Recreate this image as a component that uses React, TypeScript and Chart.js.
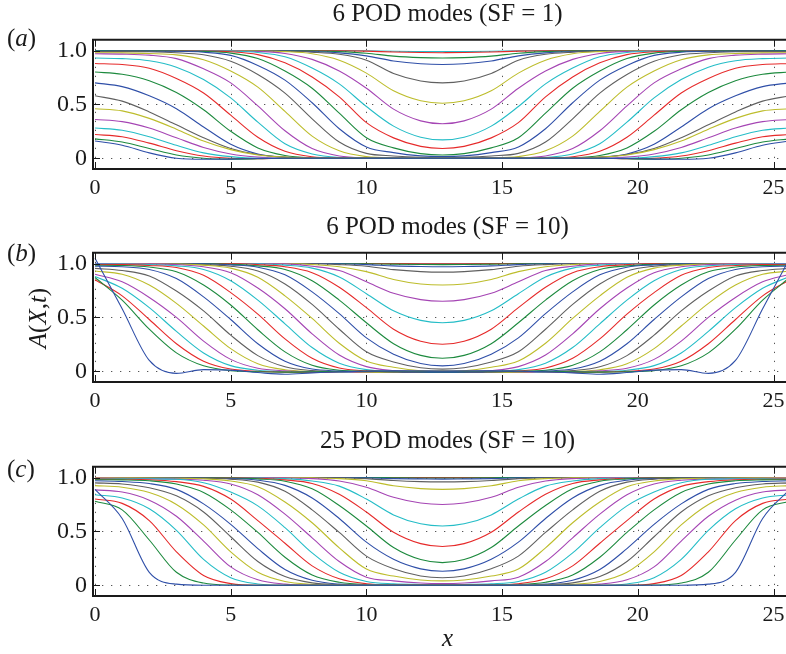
import React, { useEffect, useRef } from "react";
import { Chart, registerables } from "chart.js";

Chart.register(...registerables);

// x positions where the curves were read (symmetric about the domain centre 12.8)
const X_VALUES = [0, 1, 2, 3, 4, 5, 6, 7, 8, 9, 10, 11, 12, 12.8, 13.6, 14.6, 15.6, 16.6, 17.6, 18.6, 19.6, 20.6, 21.6, 22.6, 23.6, 24.6, 25.6];
const X_TICKS = [0, 5, 10, 15, 20, 25];
const Y_TICKS = [0, 0.5, 1];
const SERIES_COLORS = ["#2f4fa8", "#1d8a3e", "#e62a2a", "#25bdc7", "#a545b4", "#bdbd2c", "#606060"];

const TITLE_A = "6 POD modes (SF = 1)";
const TITLE_B = "6 POD modes (SF = 10)";
const TITLE_C = "25 POD modes (SF = 10)";
const X_LABEL = "x";

// Panel (a): 6 POD modes, SF = 1
const CURVES_A = [
  [.16,.12,.05,0,-.01,-.008,-.003,0,0,0,0,0,0, 0, 0,0,0,0,0,0,-.003,-.008,-.01,0,.05,.12,.16],
  [.18,.15,.09,.03,0,-.008,-.005,0,0,0,0,0,0, 0, 0,0,0,0,0,0,-.005,-.008,0,.03,.09,.15,.18],
  [.22,.2,.14,.07,.02,0,-.004,0,0,0,0,0,0, 0, 0,0,0,0,0,0,-.004,0,.02,.07,.14,.2,.22],
  [.28,.26,.2,.12,.05,.015,0,0,0,0,0,0,0, 0, 0,0,0,0,0,0,0,.015,.05,.12,.2,.26,.28],
  [.36,.34,.28,.19,.1,.04,.01,0,0,0,0,0,0, 0, 0,0,0,0,0,0,.01,.04,.1,.19,.28,.34,.36],
  [.46,.44,.37,.27,.16,.08,.03,.01,0,0,0,0,0, 0, 0,0,0,0,0,.01,.03,.08,.16,.27,.37,.44,.46],
  [.58,.53,.43,.31,.19,.09,.035,.01,.002,0,0,0,0, 0, 0,0,0,0,.002,.01,.035,.09,.19,.31,.43,.53,.58],
  [.7,.665,.58,.46,.29,.13,.04,.008,0,0,0,0,0, 0, 0,0,0,0,0,.008,.04,.13,.29,.46,.58,.665,.7],
  [.8,.78,.72,.61,.45,.25,.096,.026,.004,0,0,0,0, 0, 0,0,0,0,.004,.026,.096,.25,.45,.61,.72,.78,.8],
  [.88,.87,.835,.74,.605,.4,.195,.065,.014,.002,0,0,0, 0, 0,0,0,.002,.014,.065,.195,.4,.605,.74,.835,.87,.88],
  [.93,.925,.905,.845,.73,.56,.335,.134,.04,.007,.001,0,0, 0, 0,0,.001,.007,.04,.134,.335,.56,.73,.845,.905,.925,.93],
  [.97,.967,.957,.925,.83,.7,.486,.255,.09,.021,.003,0,0, 0, 0,0,.003,.021,.09,.255,.486,.7,.83,.925,.957,.967,.97],
  [.98,.978,.972,.96,.915,.81,.66,.435,.205,.069,.015,.002,0, 0, 0,.002,.015,.069,.205,.435,.66,.81,.915,.96,.972,.978,.98],
  [.99,.99,.988,.98,.96,.9,.777,.604,.366,.15,.045,.021,.008, .005, .008,.021,.045,.15,.366,.604,.777,.9,.96,.98,.988,.99,.99],
  [.995,.995,.994,.993,.984,.955,.862,.725,.515,.274,.105,.052,.022, .015, .022,.052,.105,.274,.515,.725,.862,.955,.984,.993,.994,.995,.995],
  [1,.998,.997,.996,.992,.976,.926,.81,.65,.418,.19,.096,.043, .03, .043,.096,.19,.418,.65,.81,.926,.976,.992,.996,.997,.998,1],
  [1,1,.998,.997,.995,.988,.962,.886,.755,.57,.33,.189,.11, .09, .11,.189,.33,.57,.755,.886,.962,.988,.995,.997,.998,1,1],
  [1,1,1,.998,.997,.994,.982,.942,.837,.69,.48,.298,.195, .17, .195,.298,.48,.69,.837,.942,.982,.994,.997,.998,1,1,1],
  [1,1,1,1,.998,.996,.991,.973,.918,.81,.65,.456,.347, .32, .347,.456,.65,.81,.918,.973,.991,.996,.998,1,1,1,1],
  [1,1,1,1,1,.998,.996,.99,.97,.91,.79,.626,.533, .51, .533,.626,.79,.91,.97,.99,.996,.998,1,1,1,1,1],
  [1,1,1,1,1,1,.998,.995,.985,.965,.91,.787,.717, .7, .717,.787,.91,.965,.985,.995,.998,1,1,1,1,1,1],
  [1,1,1,1,1,1,1,.997,.99,.978,.95,.903,.877, .87, .877,.903,.95,.978,.99,.997,1,1,1,1,1,1,1],
  [1,1,1,1,1,1,1,1,.997,.99,.975,.948,.934, .93, .934,.948,.975,.99,.997,1,1,1,1,1,1,1,1],
  [1,1,1,1,1,1,1,1,1,.998,.994,.986,.981, .98, .981,.986,.994,.998,1,1,1,1,1,1,1,1,1],
  [1,1,1,1,1,1,1,1,1,1,.998,.993,.991, .99, .991,.993,.998,1,1,1,1,1,1,1,1,1,1],
];

// Panel (b): 6 POD modes, SF = 10
const CURVES_B = [
  [1.05,.58,.1,-.02,.015,.01,-.012,-.028,-.015,-.005,0,.003,.002, 0, .002,.003,0,-.005,-.015,-.028,-.012,.01,.015,-.02,.1,.58,1.05],
  [.87,.66,.39,.17,.05,.005,-.005,-.008,-.005,0,0,0,0, 0, 0,0,0,0,-.005,-.008,-.005,.005,.05,.17,.39,.66,.87],
  [.85,.7,.48,.255,.093,.02,0,-.008,-.01,-.005,0,0,0, 0, 0,0,0,-.005,-.01,-.008,0,.02,.093,.255,.48,.7,.85],
  [.88,.77,.59,.37,.17,.052,.009,-.005,-.01,-.008,0,0,0, 0, 0,0,0,-.008,-.01,-.005,.009,.052,.17,.37,.59,.77,.88],
  [.9,.83,.685,.5,.28,.11,.028,.004,-.005,-.01,-.005,0,0, 0, 0,0,-.005,-.01,-.005,.004,.028,.11,.28,.5,.685,.83,.9],
  [.93,.9,.8,.63,.42,.21,.07,.014,-.002,-.01,-.01,-.005,0, 0, 0,-.005,-.01,-.01,-.002,.014,.07,.21,.42,.63,.8,.9,.93],
  [.955,.935,.885,.745,.56,.335,.145,.041,.006,-.005,-.012,-.01,-.005, 0, -.005,-.01,-.012,-.005,.006,.041,.145,.335,.56,.745,.885,.935,.955],
  [.975,.97,.945,.86,.69,.48,.255,.093,.02,.002,-.008,-.012,-.01, -.008, -.01,-.012,-.008,.002,.02,.093,.255,.48,.69,.86,.945,.97,.975],
  [.985,.982,.967,.923,.8,.615,.385,.18,.055,.009,-.002,-.01,-.012, -.012, -.012,-.01,-.002,.009,.055,.18,.385,.615,.8,.923,.967,.982,.985],
  [.99,.99,.982,.963,.89,.73,.53,.3,.12,.03,.004,-.006,-.01, -.01, -.01,-.006,.004,.03,.12,.3,.53,.73,.89,.963,.982,.99,.99],
  [.995,.995,.99,.978,.945,.84,.66,.44,.22,.075,.015,-.002,-.008, -.01, -.008,-.002,.015,.075,.22,.44,.66,.84,.945,.978,.99,.995,.995],
  [1,.998,.997,.99,.97,.915,.773,.58,.347,.15,.043,.006,-.004, -.006, -.004,.006,.043,.15,.347,.58,.773,.915,.97,.99,.997,.998,1],
  [1,1,.998,.995,.985,.957,.872,.7,.49,.26,.095,.037,.004, -.004, .004,.037,.095,.26,.49,.7,.872,.957,.985,.995,.998,1,1],
  [1,1,1,.998,.99,.975,.93,.81,.62,.39,.18,.086,.033, .02, .033,.086,.18,.39,.62,.81,.93,.975,.99,.998,1,1,1],
  [1,1,1,1,.998,.987,.966,.895,.737,.535,.31,.158,.071, .05, .071,.158,.31,.535,.737,.895,.966,.987,.998,1,1,1,1],
  [1,1,1,1,1,.993,.978,.945,.84,.66,.45,.256,.147, .12, .147,.256,.45,.66,.84,.945,.978,.993,1,1,1,1,1],
  [1,1,1,1,1,1,.99,.97,.915,.78,.59,.39,.278, .25, .278,.39,.59,.78,.915,.97,.99,1,1,1,1,1,1],
  [1,1,1,1,1,1,.998,.985,.957,.875,.72,.561,.472, .45, .472,.561,.72,.875,.957,.985,.998,1,1,1,1,1,1],
  [1,1,1,1,1,1,1,.997,.975,.935,.83,.724,.665, .65, .665,.724,.83,.935,.975,.997,1,1,1,1,1,1,1],
  [1,1,1,1,1,1,1,1,.99,.97,.925,.852,.81, .8, .81,.852,.925,.97,.99,1,1,1,1,1,1,1,1],
  [1,1,1,1,1,1,1,1,.998,.99,.975,.943,.925, .92, .925,.943,.975,.99,.998,1,1,1,1,1,1,1,1],
  [1,1,1,1,1,1,1,1,1,.998,.99,.978,.972, .97, .972,.978,.99,.998,1,1,1,1,1,1,1,1,1],
  [1,1,1,1,1,1,1,1,1,1,.998,.994,.991, .99, .991,.994,.998,1,1,1,1,1,1,1,1,1,1],
  [1,1,1,1,1,1,1,1,1,1,1,.999,.998, .997, .998,.999,1,1,1,1,1,1,1,1,1,1,1],
  [1,1,1,1,1,1,1,1,1,1,1,1,1, 1, 1,1,1,1,1,1,1,1,1,1,1,1,1],
];

// Panel (c): 25 POD modes, SF = 10
const CURVES_C = [
  [.89,.62,.12,.01,0,0,0,0,0,0,0,0,0, 0, 0,0,0,0,0,0,0,0,0,.01,.12,.62,.89],
  [.78,.7,.42,.12,.02,.002,0,0,0,0,0,0,0, 0, 0,0,0,0,0,0,0,.002,.02,.12,.42,.7,.78],
  [.8,.76,.6,.31,.09,.015,0,0,0,0,0,0,0, 0, 0,0,0,0,0,0,0,.015,.09,.31,.6,.76,.8],
  [.84,.81,.71,.51,.24,.07,.012,0,0,0,0,0,0, 0, 0,0,0,0,0,0,.012,.07,.24,.51,.71,.81,.84],
  [.885,.865,.79,.64,.41,.17,.05,.01,0,0,0,0,0, 0, 0,0,0,0,0,.01,.05,.17,.41,.64,.79,.865,.885],
  [.925,.91,.86,.75,.56,.31,.12,.035,.008,0,0,0,0, 0, 0,0,0,0,.008,.035,.12,.31,.56,.75,.86,.91,.925],
  [.95,.94,.905,.83,.68,.45,.22,.08,.022,.005,0,0,0, 0, 0,0,0,.005,.022,.08,.22,.45,.68,.83,.905,.94,.95],
  [.97,.963,.944,.89,.755,.565,.34,.146,.046,.01,.002,0,0, 0, 0,0,.002,.01,.046,.146,.34,.565,.755,.89,.944,.963,.97],
  [.98,.978,.97,.94,.862,.7,.49,.26,.095,.027,.005,.001,0, 0, 0,.001,.005,.027,.095,.26,.49,.7,.862,.94,.97,.978,.98],
  [.985,.984,.98,.962,.918,.8,.6,.39,.18,.06,.014,.003,.001, .001, .001,.003,.014,.06,.18,.39,.6,.8,.918,.962,.98,.984,.985],
  [.99,.99,.988,.984,.952,.865,.737,.535,.3,.12,.035,.013,.007, .006, .007,.013,.035,.12,.3,.535,.737,.865,.952,.984,.988,.99,.99],
  [.995,.993,.99,.985,.975,.94,.84,.66,.44,.22,.075,.04,.02, .015, .02,.04,.075,.22,.44,.66,.84,.94,.975,.985,.99,.993,.995],
  [1,.998,.996,.993,.988,.968,.915,.773,.58,.347,.15,.085,.049, .04, .049,.085,.15,.347,.58,.773,.915,.968,.988,.993,.996,.998,1],
  [1,1,.998,.997,.994,.985,.957,.872,.7,.49,.27,.153,.086, .07, .086,.153,.27,.49,.7,.872,.957,.985,.994,.997,.998,1,1],
  [1,1,1,.998,.996,.99,.975,.927,.81,.62,.4,.241,.152, .13, .152,.241,.4,.62,.81,.927,.975,.99,.996,.998,1,1,1],
  [1,1,1,1,.998,.995,.987,.966,.895,.74,.55,.35,.238, .21, .238,.35,.55,.74,.895,.966,.987,.995,.998,1,1,1,1],
  [1,1,1,1,1,.998,.993,.978,.945,.845,.68,.492,.386, .36, .386,.492,.68,.845,.945,.978,.993,.998,1,1,1,1,1],
  [1,1,1,1,1,1,.997,.99,.968,.92,.8,.653,.57, .55, .57,.653,.8,.92,.968,.99,.997,1,1,1,1,1,1],
  [1,1,1,1,1,1,1,.997,.99,.967,.91,.816,.763, .75, .763,.816,.91,.967,.99,.997,1,1,1,1,1,1,1],
  [1,1,1,1,1,1,1,1,.997,.99,.97,.923,.897, .89, .897,.923,.97,.99,.997,1,1,1,1,1,1,1,1],
  [1,1,1,1,1,1,1,1,1,.998,.99,.972,.962, .96, .962,.972,.99,.998,1,1,1,1,1,1,1,1,1],
  [1,1,1,1,1,1,1,1,1,1,.997,.99,.987, .985, .987,.99,.997,1,1,1,1,1,1,1,1,1,1],
  [1,1,1,1,1,1,1,1,1,1,1,.998,.996, .995, .996,.998,1,1,1,1,1,1,1,1,1,1,1],
  [1,1,1,1,1,1,1,1,1,1,1,1,.999, .999, .999,1,1,1,1,1,1,1,1,1,1,1,1],
  [1,1,1,1,1,1,1,1,1,1,1,1,1, 1, 1,1,1,1,1,1,1,1,1,1,1,1,1],
];

const FONT = "'Liberation Serif', 'Times New Roman', serif";

const framePlugin = {
  id: "matlabFrame",
  beforeDatasetsDraw(chart: any) {
    const { ctx, chartArea: a, scales } = chart;
    const xs = scales.x;
    const ys = scales.y;
    ctx.save();
    ctx.strokeStyle = "#555";
    ctx.lineWidth = 1;
    ctx.setLineDash([1.3, 7.7]);
    for (const v of Y_TICKS) {
      const py = Math.round(ys.getPixelForValue(v)) + 0.5;
      ctx.beginPath();
      ctx.moveTo(a.left, py);
      ctx.lineTo(a.right, py);
      ctx.stroke();
    }
    for (const v of X_TICKS) {
      const px = Math.round(xs.getPixelForValue(v)) + 0.5;
      ctx.beginPath();
      ctx.moveTo(px, a.top);
      ctx.lineTo(px, a.bottom);
      ctx.stroke();
    }
    ctx.restore();
  },
  afterDatasetsDraw(chart: any) {
    const { ctx, chartArea: a, scales } = chart;
    const xs = scales.x;
    const ys = scales.y;
    ctx.save();
    ctx.setLineDash([]);
    ctx.strokeStyle = "#1a1a1a";
    ctx.lineWidth = 1;
    for (const v of X_TICKS) {
      const px = Math.round(xs.getPixelForValue(v)) + 0.5;
      ctx.beginPath();
      ctx.moveTo(px, a.top);
      ctx.lineTo(px, a.top + 7);
      ctx.moveTo(px, a.bottom);
      ctx.lineTo(px, a.bottom - 7);
      ctx.stroke();
    }
    for (const v of Y_TICKS) {
      const py = Math.round(ys.getPixelForValue(v)) + 0.5;
      ctx.beginPath();
      ctx.moveTo(a.left, py);
      ctx.lineTo(a.left + 7, py);
      ctx.moveTo(a.right, py);
      ctx.lineTo(a.right - 7, py);
      ctx.stroke();
    }
    ctx.lineWidth = 2;
    ctx.strokeRect(a.left, a.top, a.right - a.left, a.bottom - a.top);
    ctx.restore();
  },
};

function buildConfig(curves: number[][], title: string, xAxisHeight: number, xTitle?: string) {
  return {
    type: "line" as const,
    data: {
      datasets: curves.map((ys, i) => ({
        data: X_VALUES.map((x, j) => ({ x, y: ys[j] })),
        borderColor: SERIES_COLORS[i % SERIES_COLORS.length],
        borderWidth: 1.1,
        pointRadius: 0,
        fill: false,
        cubicInterpolationMode: "monotone" as const,
      })),
    },
    options: {
      animation: false as const,
      responsive: false,
      maintainAspectRatio: false,
      devicePixelRatio: 1,
      layout: { padding: { left: 0, right: 10, top: 0, bottom: 0 } },
      plugins: {
        legend: { display: false },
        tooltip: { enabled: false },
        title: {
          display: true,
          text: title,
          fullSize: false,
          color: "#1a1a1a",
          font: { family: FONT, size: 25, weight: "normal" as const, lineHeight: 1.15 },
          padding: { top: 0, bottom: 11 },
        },
      },
      scales: {
        x: {
          type: "linear" as const,
          min: -0.074,
          max: 26.05,
          afterBuildTicks: (s: any) => {
            s.ticks = X_TICKS.map((v) => ({ value: v }));
          },
          afterFit: (s: any) => {
            s.height = xAxisHeight;
          },
          ticks: {
            autoSkip: false,
            maxRotation: 0,
            padding: 6,
            color: "#1a1a1a",
            font: { family: FONT, size: 22 },
          },
          grid: { display: false, drawTicks: false },
          border: { display: false },
          title: {
            display: !!xTitle,
            text: xTitle || "",
            color: "#1a1a1a",
            font: { family: FONT, size: 25, style: "italic" as const },
            padding: { top: 0, bottom: 0 },
          },
        },
        y: {
          type: "linear" as const,
          min: -0.1,
          max: 1.1,
          afterBuildTicks: (s: any) => {
            s.ticks = Y_TICKS.map((v) => ({ value: v }));
          },
          afterFit: (s: any) => {
            s.width = 93;
          },
          ticks: {
            padding: 6,
            color: "#1a1a1a",
            font: { family: FONT, size: 24 },
            callback: (v: any) => (Number(v) === 0 ? "0" : Number(v).toFixed(1)),
          },
          grid: { display: false, drawTicks: false },
          border: { display: false },
        },
      },
    },
    plugins: [framePlugin],
  };
}

const labelStyle: React.CSSProperties = {
  position: "absolute",
  left: 7,
  fontFamily: FONT,
  fontSize: 25,
  lineHeight: "28px",
  color: "#1a1a1a",
};

export default function App() {
  const refA = useRef<HTMLCanvasElement>(null);
  const refB = useRef<HTMLCanvasElement>(null);
  const refC = useRef<HTMLCanvasElement>(null);

  useEffect(() => {
    const charts = [
      new Chart(refA.current as HTMLCanvasElement, buildConfig(CURVES_A, TITLE_A, 31) as any),
      new Chart(refB.current as HTMLCanvasElement, buildConfig(CURVES_B, TITLE_B, 31) as any),
      new Chart(refC.current as HTMLCanvasElement, buildConfig(CURVES_C, TITLE_C, 58, X_LABEL) as any),
    ];
    return () => charts.forEach((c) => c.destroy());
  }, []);

  return (
    <div style={{ position: "fixed", left: 0, top: 0, width: 786, height: 654, overflow: "hidden", background: "#fff" }}>
      <canvas ref={refA} width={812} height={200} style={{ position: "absolute", left: 0, top: 0, width: 812, height: 200 }} />
      <canvas ref={refB} width={812} height={200} style={{ position: "absolute", left: 0, top: 213, width: 812, height: 200 }} />
      <canvas ref={refC} width={812} height={227} style={{ position: "absolute", left: 0, top: 427, width: 812, height: 227 }} />
      <div style={{ ...labelStyle, top: 24 }}>(<i>a</i>)</div>
      <div style={{ ...labelStyle, top: 239 }}>(<i>b</i>)</div>
      <div style={{ ...labelStyle, top: 455 }}>(<i>c</i>)</div>
      <div
        style={{
          position: "absolute",
          left: -12,
          top: 304,
          width: 100,
          height: 28,
          lineHeight: "28px",
          textAlign: "center",
          fontFamily: FONT,
          fontSize: 25,
          color: "#1a1a1a",
          transform: "rotate(-90deg)",
          whiteSpace: "nowrap",
        }}
      >
        <i>A</i>(<i>X</i>,<i>t</i>)
      </div>
    </div>
  );
}
